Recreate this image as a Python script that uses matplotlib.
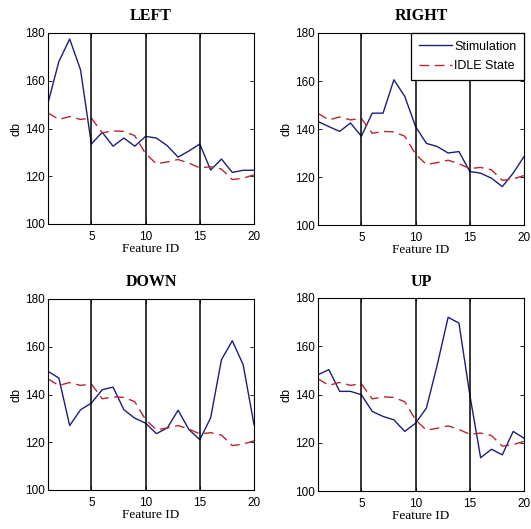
import matplotlib
matplotlib.use("Agg")
import matplotlib.pyplot as plt
import numpy as np

feature_ids = list(range(1, 21))

idle_state = [146.5, 143.8, 145.0, 143.8, 144.4, 138.2, 139.0, 138.8, 137.0, 129.5,
              125.2, 126.0, 127.0, 125.5, 123.5, 124.0, 123.0, 118.6, 119.2, 120.6]

stim_left = [150.7, 168.0, 177.5, 164.6, 133.5, 138.4, 132.6, 136.0, 132.6, 136.7,
             136.0, 132.8, 128.0, 130.6, 133.5, 122.6, 127.2, 121.6, 122.5, 122.5]
stim_right = [143.1, 141.0, 139.0, 142.5, 137.0, 146.6, 146.6, 160.5, 153.6, 141.0,
              134.0, 132.7, 130.0, 130.6, 122.3, 121.6, 119.5, 116.0, 121.6, 128.5]
stim_down = [149.7, 146.9, 127.0, 133.6, 136.4, 142.0, 143.1, 133.6, 130.1, 128.0,
             123.6, 126.0, 133.4, 125.3, 121.1, 130.2, 154.6, 162.5, 152.5, 127.4]
stim_up = [148.2, 150.3, 141.3, 141.3, 139.9, 133.0, 130.9, 129.5, 124.7, 128.1,
           134.4, 152.3, 172.0, 169.6, 139.9, 113.8, 117.3, 115.0, 124.7, 121.9]

titles = ["LEFT", "RIGHT", "DOWN", "UP"]
stims = [stim_left, stim_right, stim_down, stim_up]
separators = [5, 10, 15]
x_ticks = [5, 10, 15, 20]
y_ticks = [100, 120, 140, 160, 180]
legend_labels = ["Stimulation", "IDLE State"]

blue = "#1c1f7a"
red = "#b8262e"

fig = plt.figure(figsize=(5.31, 5.29), dpi=100)
W, H = 531, 529
boxes = [(48, 33, 254, 224), (318, 33, 524, 225), (48, 299, 254, 490), (318, 298, 524, 491)]

for i, (title, stim) in enumerate(zip(titles, stims)):
    x0, y0, x1, y1 = boxes[i]
    ax = fig.add_axes([x0 / W, 1 - y1 / H, (x1 - x0) / W, (y1 - y0) / H])
    l1, = ax.plot(feature_ids, stim, color=blue, lw=1.0, label=legend_labels[0])
    l2, = ax.plot(feature_ids, idle_state, color=red, lw=1.0, linestyle=(0, (7, 4)),
                  label=legend_labels[1])
    for s in separators:
        ax.axvline(s, color="black", lw=1.1)
    ax.set_xlim(1, 20)
    ax.set_ylim(100, 180)
    ax.set_xticks(x_ticks)
    ax.set_yticks(y_ticks)
    ax.tick_params(direction="in", top=True, right=True, length=3, width=0.6,
                   labelsize=8.5)
    ax.tick_params(axis="x", pad=5)
    ax.tick_params(axis="y", pad=2)
    for lab in ax.get_xticklabels() + ax.get_yticklabels():
        lab.set_family("Liberation Sans")
    ax.set_title(title, fontfamily="Liberation Serif", fontweight="bold", fontsize=11.5, pad=9)
    ax.set_xlabel("Feature ID", fontfamily="Liberation Serif", fontsize=9.5, labelpad=0)
    ax.set_ylabel("db", fontfamily="Liberation Sans", fontsize=9, labelpad=2)
    for sp in ax.spines.values():
        sp.set_linewidth(0.8)
    if title == "RIGHT":
        leg = ax.legend(handles=[l1, l2], loc="upper right",
                        prop={"family": "Liberation Sans", "size": 9},
                        fancybox=False, framealpha=1, edgecolor="black",
                        borderaxespad=0.0, handlelength=2.7, handletextpad=0.15,
                        borderpad=0.6, labelspacing=0.6)
        leg.get_frame().set_linewidth(0.9)

fig.savefig("out.png", dpi=100)
